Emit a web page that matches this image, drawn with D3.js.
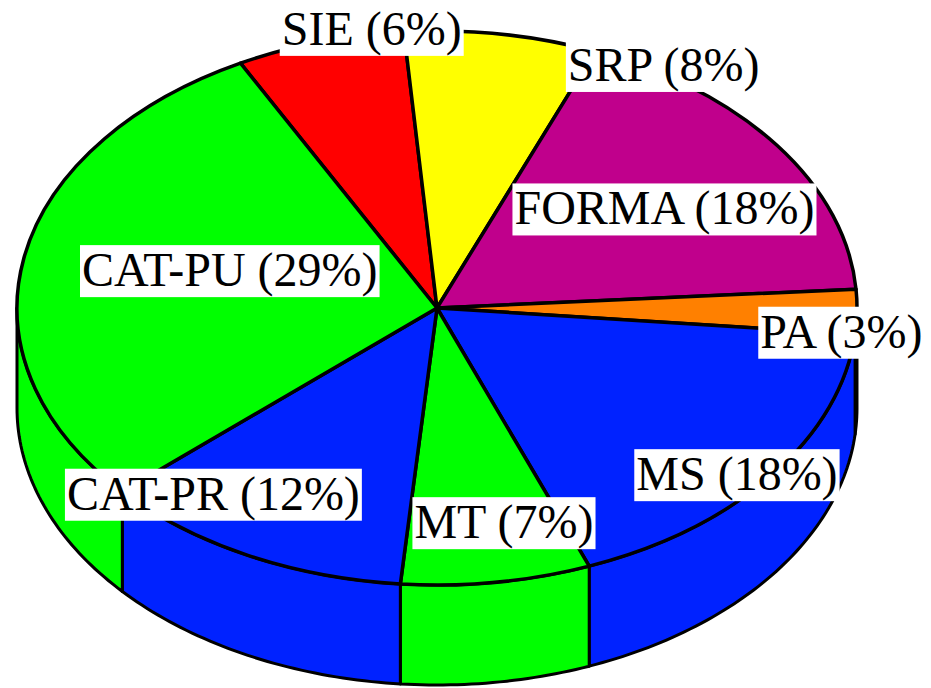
<!DOCTYPE html>
<html>
<head>
<meta charset="utf-8">
<script src="https://cdn.jsdelivr.net/npm/d3@7.9.0/dist/d3.min.js"></script>
<style>
  html, body { margin: 0; padding: 0; background: #fff; }
  svg { display: block; }
  .label { font-family: "Liberation Serif", "Times New Roman", serif; font-size: 48px; fill: #000; }
</style>
</head>
<body>
<svg id="chart" width="931" height="688"></svg>
<script>
const categories = ["SIE", "SRP", "FORMA", "PA", "MS", "MT", "CAT-PR", "CAT-PU"];
const shares = [6.5, 7.4, 17.8, 2.6, 17.6, 7.3, 12.1, 28.8];
const labelText = ["SIE (6%)", "SRP (8%)", "FORMA (18%)", "PA (3%)", "MS (18%)", "MT (7%)", "CAT-PR (12%)", "CAT-PU (29%)"];
const sliceColors = ["#ff0000", "#ffff00", "#c0008c", "#ff8000", "#0022ff", "#00ff00", "#0022ff", "#00ff00"];

// where each label sits, in the pie's own frame: [angle in deg, fraction of radius]
const labelSpots = [[-8.8, 1.016], [31.7, 1.027], [56.7, 0.648], [95.3, 0.967],
                    [130.2, 0.935], [168.4, 0.793], [218.3, 0.859], [285.1, 0.511]];

const cx = 437, cy = 308, rx = 420, ry = 277, depth = 100;
const startDeg = -27.9;
const rad = d => d * Math.PI / 180;

const svg = d3.select("#chart");

const pie = d3.pie().sort(null).value(d => d.value)
    .startAngle(rad(startDeg))
    .endAngle(rad(startDeg) + 2 * Math.PI);

const slices = pie(categories.map((c, i) => ({
    name: c, value: shares[i], color: sliceColors[i], label: labelText[i]
})));

// point on the rim (angle clockwise from 12 o'clock), optionally pushed down
const rim = (a, r = 1, drop = 0) => [cx + rx * r * Math.sin(a), cy - ry * r * Math.cos(a) + drop];

// side walls, only the front half is visible
const lineGen = d3.line();
const front0 = Math.PI / 2, front1 = 3 * Math.PI / 2;
const sideG = svg.append("g");

slices.forEach(s => {
    let a0 = Math.max(s.startAngle, front0);
    let a1 = Math.min(s.endAngle, front1);
    if (a1 <= a0) return;
    let n = Math.max(2, Math.ceil((a1 - a0) / rad(1)));
    let top = d3.range(n + 1).map(k => rim(a0 + (a1 - a0) * k / n));
    let bottom = top.slice().reverse().map(p => [p[0], p[1] + depth]);
    sideG.append("path")
        .attr("d", lineGen(top.concat(bottom)) + "Z")
        .attr("fill", s.data.color)
        .attr("stroke", "#000")
        .attr("stroke-width", 3)
        .attr("stroke-linejoin", "round");
});

// top face
const arcGen = d3.arc().innerRadius(0).outerRadius(100);
svg.append("g")
    .attr("transform", `translate(${cx},${cy}) scale(${rx / 100},${ry / 100})`)
    .selectAll("path")
    .data(slices)
    .enter()
    .append("path")
    .attr("d", arcGen)
    .attr("fill", d => d.data.color)
    .attr("stroke", "#000")
    .attr("stroke-width", 3.5)
    .attr("stroke-linejoin", "round")
    .attr("vector-effect", "non-scaling-stroke");

// labels on white boxes
const labelG = svg.append("g");
slices.forEach((s, i) => {
    let [deg, r] = labelSpots[i];
    let [x, y] = rim(rad(deg), r);
    let g = labelG.append("g");
    let t = g.append("text")
        .attr("class", "label")
        .attr("x", x)
        .attr("y", y + 15)
        .attr("text-anchor", "middle")
        .text(s.data.label);
    let bb = t.node().getBBox();
    g.insert("rect", "text")
        .attr("x", bb.x - 2)
        .attr("y", y + 15 - 41)
        .attr("width", bb.width + 4)
        .attr("height", 52)
        .attr("fill", "#fff");
});
</script>
</body>
</html>
